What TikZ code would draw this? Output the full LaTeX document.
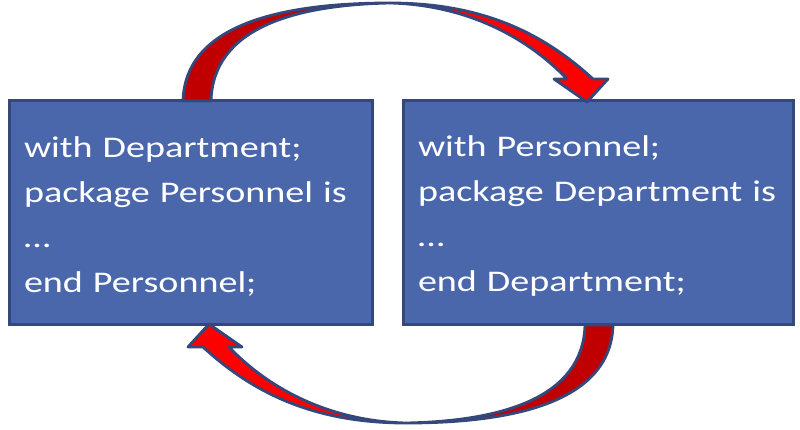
\documentclass[tikz,border=0pt]{standalone}
\usepackage{fontspec}
\setmainfont{Carlito}[FakeStretch=1.27]
\usepackage{tikz}
\usetikzlibrary{positioning}

\definecolor{boxblue}{RGB}{74,103,172}
\definecolor{navy}{RGB}{52,72,124}
\definecolor{brightred}{RGB}{255,0,0}
\definecolor{darkred}{RGB}{192,0,0}

\tikzset{
	pkg/.style={draw=navy, fill=boxblue, line width=3pt, text=white, outer sep=0pt,
		inner xsep=15pt, minimum height=224pt, text height=28pt, align=left,
		font=\fontsize{30}{45}\selectfont},
	band/.style={draw=navy, line width=2.8pt, line join=round},
}

\begin{document}
\begin{tikzpicture}[x=1pt, y=-1pt]
	\useasboundingbox (0,0) rectangle (800,429);
	
	% Draw package boxes
	\node[pkg, text width=333pt] (pers) at (190.5,212.5)
		{with Department;\\package Personnel is\\…\\end Personnel;};
	\node[pkg, text width=360pt, right=31pt of pers] (dept)
		{with Personnel;\\package Department is\\…\\end Department;};
	
	% Draw curved arrows, the lower one is the upper one turned round
	\foreach \ang in {0,180}{
		\begin{scope}[rotate around={\ang:(398,213)}]
			\filldraw[band, fill=darkred] (183,101) .. controls (185,25) and (280,3) .. (390,3)
				.. controls (290,5) and (213,30) .. (211,101) -- cycle;
			\filldraw[band, fill=brightred] (390,3) .. controls (485,3) and (545,35) .. (593,79)
				-- (608,79) -- (587,102) -- (554,79) -- (567,79)
				.. controls (530,40) and (470,5) .. (390,3) -- cycle;
		\end{scope}
	}
	
\end{tikzpicture}
\end{document}
